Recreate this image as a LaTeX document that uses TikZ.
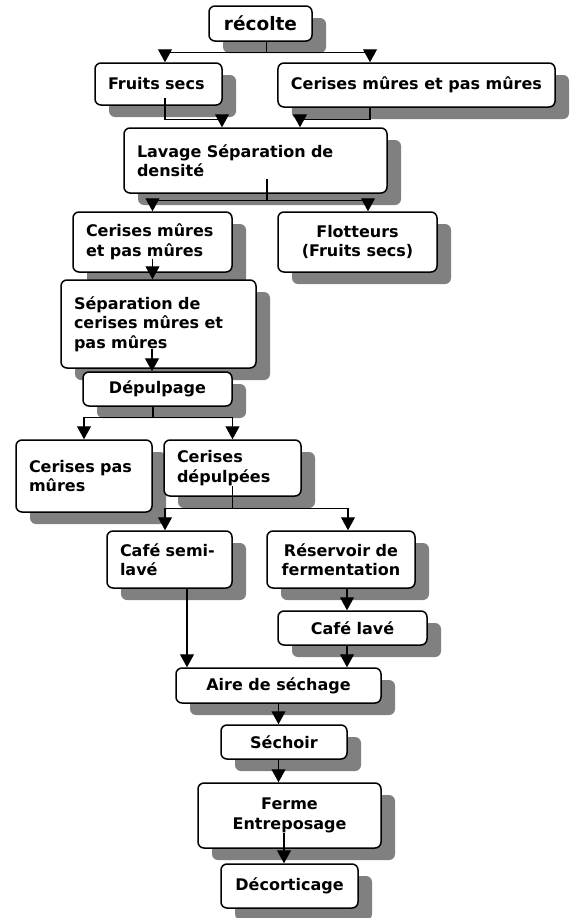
\documentclass[tikz,border=0pt]{standalone}
\usepackage{fontspec}
\setmainfont{DejaVu Sans}
\usetikzlibrary{arrows.meta,shadows}

\begin{document}
\begin{tikzpicture}[x=1pt,y=-1pt,
  box/.style={draw, line width=1.5pt, rounded corners=6pt, fill=white,
    general shadow={fill=gray, shadow xshift=14pt, shadow yshift=-12pt},
    font=\bfseries\fontsize{16}{19.5}\selectfont, inner xsep=13pt, inner ysep=4pt},
  lbox/.style={box, align=left},
  cbox/.style={box, align=center},
  conn/.style={line width=1.2pt},
  arr/.style={conn, -{Triangle[width=14pt,length=13pt]}}]
\useasboundingbox (0,0) rectangle (576,918);

%Boxes
\node[cbox, minimum width=103pt, minimum height=35pt, font=\bfseries\fontsize{18.5}{22}\selectfont] (rec) at (260.5,23.5) {récolte};
\node[lbox, text width=101pt, minimum height=42pt] (fs) at (158.5,84) {Fruits secs};
\node[cbox, minimum width=277pt, minimum height=44pt] (cm1) at (416.5,85) {Cerises mûres et pas mûres};
\node[lbox, text width=237pt, minimum height=65pt] (lav) at (255.5,160.5) {Lavage Séparation de\\densité};
\node[lbox, text width=133pt, minimum height=60pt] (cm2) at (152.5,242) {Cerises mûres\\et pas mûres};
\node[cbox, minimum width=159pt, minimum height=60pt] (flot) at (357.5,242) {Flotteurs\\(Fruits secs)};
\node[lbox, text width=169pt, minimum height=88pt] (sep) at (158.5,324) {Séparation de\\cerises mûres et\\pas mûres};
\node[cbox, minimum width=149pt, minimum height=34pt] (dep) at (157.5,389) {Dépulpage};
\node[lbox, text width=110pt, minimum height=72pt] (cpm) at (84,476) {Cerises pas\\mûres\\[14pt]};
\node[lbox, text width=111pt, minimum height=56pt] (cdep) at (232.5,468) {Cerises\\dépulpées};
\node[lbox, text width=99pt, minimum height=57pt] (csl) at (169.5,559.5) {Café semi-\\lavé};
\node[cbox, minimum width=148pt, minimum height=57pt] (res) at (341,559.5) {Réservoir de\\fermentation};
\node[cbox, minimum width=149pt, minimum height=34pt] (cl) at (352.5,628) {Café lavé};
\node[cbox, minimum width=205pt, minimum height=35pt] (aire) at (278.5,685.5) {Aire de séchage};
\node[cbox, minimum width=126pt, minimum height=34pt] (sech) at (284,742) {Séchoir};
\node[cbox, minimum width=183pt, minimum height=65pt] (ferme) at (289.5,815.5) {Ferme\\Entreposage};
\node[cbox, minimum width=137pt, minimum height=44pt] (dec) at (289.5,886) {Décorticage};

%Arrows from recolte
\draw[conn] ([xshift=6pt]rec.south) -- ++(0,11) coordinate (j1);
\draw[arr] (j1) -| ([xshift=6.5pt]fs.north);
\draw[arr] (j1) -| ([xshift=-46.5pt]cm1.north);

%Into lavage
\draw[arr] ([xshift=6.5pt,yshift=8pt]fs.south) |- ([xshift=-33.5pt,yshift=8pt]lav.north) -- ([xshift=-33.5pt]lav.north);
\draw[arr] ([xshift=-46.5pt]cm1.south) |- ([xshift=44.5pt,yshift=8pt]lav.north) -- ([xshift=44.5pt]lav.north);

%Out of lavage
\draw[conn] ([xshift=11.5pt,yshift=15pt]lav.south) -- ++(0,22) coordinate (j2);
\draw[arr] (j2) -| (cm2.north);
\draw[arr] (j2) -| ([xshift=10.5pt]flot.north);

%Left column
\draw[arr] ([yshift=14pt]cm2.south) -- (cm2.south |- sep.north);
\draw[arr] ([xshift=-6.5pt,yshift=20pt]sep.south) -- ([xshift=-6.5pt]sep.south |- dep.north);
\draw[conn] ([xshift=-4.5pt]dep.south) -- ++(0,11) coordinate (j3);
\draw[arr] (j3) -| (cpm.north);
\draw[arr] (j3) -| (cdep.north);

%Depulped cherries
\draw[conn] ([yshift=11pt]cdep.south) -- ++(0,23) coordinate (j4);
\draw[arr] (j4) -| ([xshift=-4.5pt]csl.north);
\draw[arr] (j4) -| ([xshift=7pt]res.north);
\draw[arr] ([xshift=6pt]res.south) -- ([xshift=6pt]res.south |- cl.north);

%Drying and after
\draw[arr] ([xshift=17.5pt]csl.south) -- ([xshift=17.5pt]csl.south |- aire.north);
\draw[arr] ([xshift=-5.5pt]cl.south) -- ([xshift=-5.5pt]cl.south |- aire.north);
\draw[arr] (aire.south) -- (aire.south |- sech.north);
\draw[arr] ([xshift=-5.5pt]sech.south) -- ([xshift=-5.5pt]sech.south |- ferme.north);
\draw[arr] ([xshift=-5.5pt,yshift=16pt]ferme.south) -- ([xshift=-5.5pt]ferme.south |- dec.north);
\end{tikzpicture}
\end{document}
